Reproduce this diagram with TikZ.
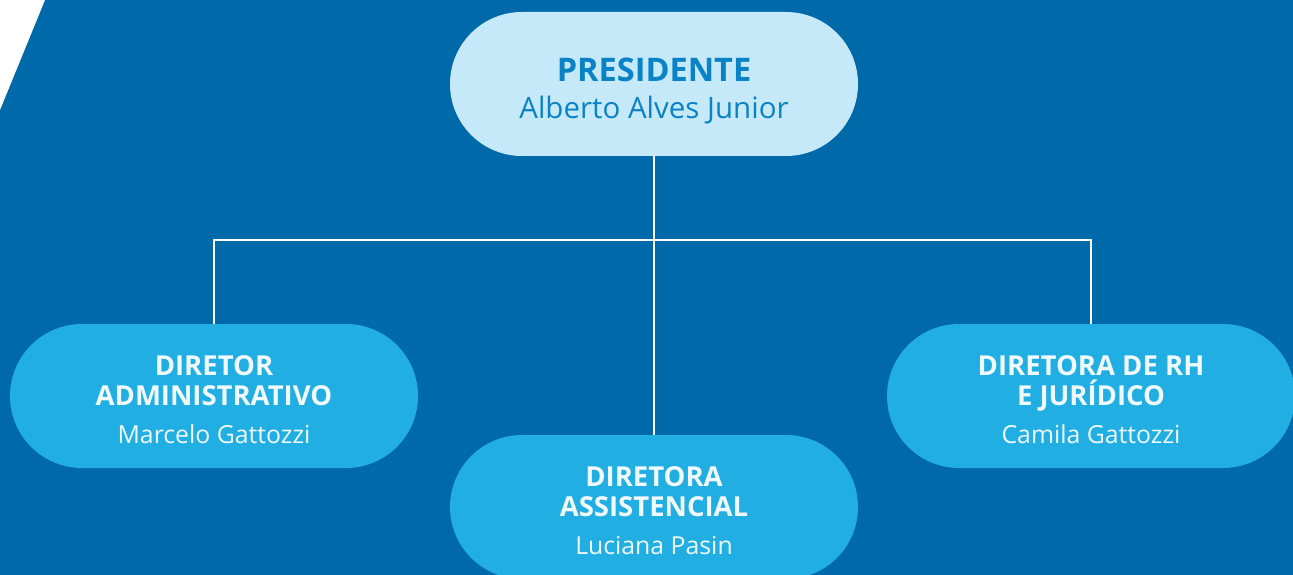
\documentclass[tikz,border=0pt]{standalone}
\usepackage{fontspec}
\setmainfont{Open Sans}
\usetikzlibrary{shapes.misc}
\definecolor{bg}{HTML}{0069AA}
\definecolor{lightfill}{HTML}{C6E9F9}
\definecolor{midfill}{HTML}{21AEE2}
\definecolor{prestext}{HTML}{0A82C6}
\definecolor{wtext}{HTML}{F0F9FE}
\newcommand{\dtitle}{\fontsize{27.5}{30}\selectfont\bfseries}
\begin{document}
\begin{tikzpicture}[x=1pt,y=-1pt,
  pill/.style={rounded rectangle, minimum width=408pt, minimum height=144pt, inner sep=0pt},
  presbox/.style={pill, fill=lightfill},
  dirbox/.style={pill, fill=midfill},
  prestxt/.style={align=center, inner sep=0pt, text=prestext, font=\fontsize{29.5}{37}\selectfont, yshift=-7pt},
  dirtxt/.style={align=center, inner sep=0pt, text=wtext, font=\fontsize{24.8}{30}\selectfont, yshift=-4pt},
  conn/.style={draw=white, line width=1.5pt}]
\fill[bg] (0,0) rectangle (1293,575);
\fill[white] (0,0) -- (45,0) -- (0,110) -- cycle;
\useasboundingbox (0,0) rectangle (1293,575);
\node[presbox] (pres) at (654,84) {};
\node[dirbox] (adm) at (214,396) {};
\node[dirbox] (ast) at (654,507) {};
\node[dirbox] (rh) at (1091,396) {};
\node[prestxt] (presT) at (pres.center) {{\fontsize{32.5}{37}\selectfont\bfseries PRESIDENTE}\\Alberto Alves Junior};
\node[dirtxt] (admT) at (adm.center) {{\dtitle DIRETOR}\\{\dtitle ADMINISTRATIVO}\\[8pt]Marcelo Gattozzi};
\node[dirtxt] (astT) at (ast.center) {{\dtitle DIRETORA}\\{\dtitle ASSISTENCIAL}\\[8pt]Luciana Pasin};
\node[dirtxt] (rhT) at (rh.center) {{\dtitle DIRETORA DE RH}\\{\dtitle E JURÍDICO}\\[8pt]Camila Gattozzi};
\coordinate (bus) at (0,240);
\draw[conn] (pres.south) -- (ast.north);
\draw[conn] (adm.north) -- (adm.north |- bus) -- (rh.north |- bus) -- (rh.north);
\end{tikzpicture}
\end{document}
